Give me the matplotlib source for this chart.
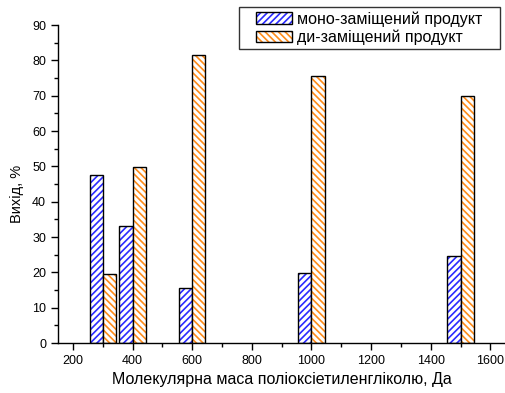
import matplotlib
matplotlib.use('Agg')
import matplotlib.pyplot as plt
import numpy as np
from matplotlib.legend_handler import HandlerTuple
from matplotlib.ticker import MultipleLocator

plt.rcParams['font.family'] = ['Liberation Sans', 'DejaVu Sans']
plt.rcParams['hatch.linewidth'] = 1.2

# molecular mass of PEG, Da
mass = [300, 400, 600, 1000, 1500]
mono_yield = [47.5, 33.2, 15.5, 19.8, 24.7]
di_yield = [19.5, 49.8, 81.5, 75.5, 70.0]
labels = ['моно-заміщений продукт', 'ди-заміщений продукт']


class ShiftedTuple(HandlerTuple):
    # leave some empty room on the left of the legend key
    def create_artists(self, legend, orig_handle, xdescent, ydescent,
                       width, height, fontsize, trans):
        shift = width * 0.27
        return super().create_artists(legend, orig_handle, xdescent - shift,
                                      ydescent, width - shift, height,
                                      fontsize, trans)


fig = plt.figure(figsize=(5.06, 3.93), dpi=100)
ax = fig.add_axes([0.1146, 0.127, 0.884, 0.809])

w = 44
# hatch drawn in series colour, black outline drawn on top
h1 = ax.bar(mass, mono_yield, width=-w, align='edge', facecolor='white',
            edgecolor='#2a2aff', hatch='/' * 5, linewidth=0)
o1 = ax.bar(mass, mono_yield, width=-w, align='edge', fill=False,
            edgecolor='black', linewidth=1.0)
h2 = ax.bar(mass, di_yield, width=w, align='edge', facecolor='white',
            edgecolor='#ff8c1a', hatch='\\' * 5, linewidth=0)
o2 = ax.bar(mass, di_yield, width=w, align='edge', fill=False,
            edgecolor='black', linewidth=1.0)

ax.set_xlim(150, 1650)
ax.set_ylim(0, 90)
ax.xaxis.set_major_locator(MultipleLocator(200))
ax.xaxis.set_minor_locator(MultipleLocator(100))
ax.yaxis.set_major_locator(MultipleLocator(10))
ax.yaxis.set_minor_locator(MultipleLocator(5))
ax.tick_params(which='both', direction='out', labelsize=9, width=1)
ax.tick_params(which='major', length=5)
ax.tick_params(which='minor', length=3)
ax.spines['top'].set_visible(False)
ax.spines['right'].set_visible(False)
ax.spines['left'].set_linewidth(1)
ax.spines['bottom'].set_linewidth(1)

ax.set_xlabel('Молекулярна маса поліоксіетиленгліколю, Да', fontsize=11.5)
ax.set_ylabel('Вихід, %', fontsize=10.5)
ax.yaxis.set_label_coords(-0.077, 0.47)

leg = fig.legend([(h1[0], o1[0]), (h2[0], o2[0])],
                 [s + '   ' for s in labels],
                 handler_map={tuple: ShiftedTuple(ndivide=1, pad=0)},
                 loc='upper right', bbox_to_anchor=(0.988, 0.982),
                 fontsize=11.5, frameon=True, fancybox=False,
                 handlelength=3.1, handleheight=0.7, handletextpad=0.3,
                 borderpad=0.25, labelspacing=0.2, borderaxespad=0)
leg.get_frame().set_edgecolor('black')
leg.get_frame().set_linewidth(1)

fig.savefig('out.png', dpi=100)
